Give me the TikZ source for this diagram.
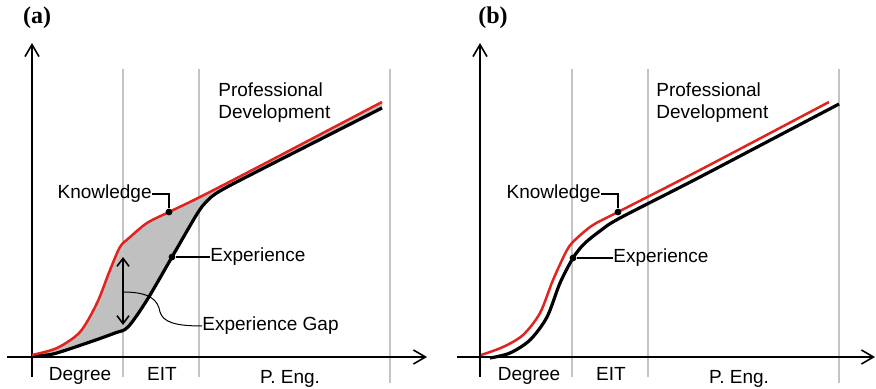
\documentclass[tikz,border=0pt]{standalone}
\usepackage{fontspec}
\setmainfont{Liberation Sans}
\newfontfamily\panelfont{Liberation Serif}
\usepackage{tikz}
\usetikzlibrary{arrows.meta}
\definecolor{curvered}{RGB}{226,34,28}
\definecolor{gapfill}{RGB}{192,192,192}
\definecolor{gridgray}{RGB}{196,196,196}

\begin{document}
\begin{tikzpicture}[x=0.5pt,y=-0.5pt,
  lbl/.style={inner sep=0pt,font=\fontsize{9.5}{11}\selectfont},
  panellbl/.style={inner sep=0pt,font=\panelfont\bfseries\fontsize{12}{12}\selectfont},
  axis/.style={line width=0.8pt,-{Straight Barb[length=6pt,width=7pt]}},
  grid/.style={gridgray,line width=0.6pt},
  know/.style={curvered,line width=1.25pt},
  expe/.style={black,line width=1.6pt},
  leader/.style={line width=0.8pt},
  dot/.style={circle,fill=black,inner sep=0pt,minimum size=3.4pt}]
\useasboundingbox (0,0) rectangle (876,389);

% (a)
\node [panellbl] (pa) at (37,18) {(a)};
\fill [gapfill] plot [smooth] coordinates {(32,355) (57,348) (80,332) (97,303) (110,270) (120,247) (129,238) (147,223) (169,212) (200,197) (260,166) (382,102)}
  -- plot [smooth] coordinates {(382,108) (260,170) (220,191) (207,201) (197,214) (172,257) (147,300) (128,327) (115,333) (87,343) (53,354) (32,356)} -- cycle;
\foreach \x/\y in {123/377,199/377,390/383}
  \draw [grid] (\x,69) -- (\x,\y);
\draw [axis] (32,377) -- (32,43);
\draw [axis] (7,357) -- (427,357);
\draw [expe] plot [smooth] coordinates {(32,356) (53,354) (87,343) (115,333) (128,327) (147,300) (172,257) (197,214) (207,201) (220,191) (260,170) (382,108)};
\draw [know] plot [smooth] coordinates {(32,355) (57,348) (80,332) (97,303) (110,270) (120,247) (129,238) (147,223) (169,212) (200,197) (260,166) (382,102)};
\node [lbl,anchor=base] (degreeA) at (80,380) {Degree};
\node [lbl,anchor=base] (eitA) at (162,380) {EIT};
\node [lbl,anchor=base] (pengA) at (290,383) {P. Eng.};
\node [lbl,anchor=north west,align=left] (profA) at (218,82) {Professional\\Development};
\node [dot] (kdotA) at (169,212) {};
\node [dot] (edotA) at (172,257) {};
\node [lbl,anchor=east] (knowA) at (152,194) {Knowledge};
\node [lbl,anchor=west] (expA) at (210,257) {Experience};
\node [lbl,anchor=west] (gapA) at (202,326) {Experience Gap};
\draw [leader] (knowA.east) -| (kdotA);
\draw [leader] (edotA) -- (expA.west);
\coordinate (gtopA) at (123,257);
\coordinate (gbotA) at (123,325);
\coordinate (gmidA) at (123,292);
\draw [line width=0.8pt,{Straight Barb[length=4pt,width=6pt]}-{Straight Barb[length=4pt,width=6pt]}] (gtopA) -- (gbotA);
\draw [line width=0.5pt] (gmidA) .. controls (150,292) and (158,300) .. (160,312)
  .. controls (163,322) and (175,326) .. (gapA.west);

% (b)
\node [panellbl] (pb) at (493,18) {(b)};
\foreach \x/\y in {572/377,648/377,839/383}
  \draw [grid] (\x,69) -- (\x,\y);
\draw [axis] (480,377) -- (480,43);
\draw [axis] (457,357) -- (875,357);
\draw [expe] plot [smooth] coordinates {(490,358) (510,353) (530,340) (547,317) (560,283) (573,258) (584,244) (600,231) (620,218) (700,177) (839,104)};
\draw [know] plot [smooth] coordinates {(481,355) (503,347) (523,335) (540,313) (553,280) (567,250) (576,239) (593,225) (618,212) (700,170) (829,102)};
\node [lbl,anchor=base] (degreeB) at (529,380) {Degree};
\node [lbl,anchor=base] (eitB) at (611,380) {EIT};
\node [lbl,anchor=base] (pengB) at (739,383) {P. Eng.};
\node [lbl,anchor=north west,align=left] (profB) at (656,82) {Professional\\Development};
\node [dot] (kdotB) at (618,212) {};
\node [dot] (edotB) at (573,258) {};
\node [lbl,anchor=east] (knowB) at (601,194) {Knowledge};
\node [lbl,anchor=west] (expB) at (613,258) {Experience};
\draw [leader] (knowB.east) -| (kdotB);
\draw [leader] (edotB) -- (expB.west);
\end{tikzpicture}
\end{document}
